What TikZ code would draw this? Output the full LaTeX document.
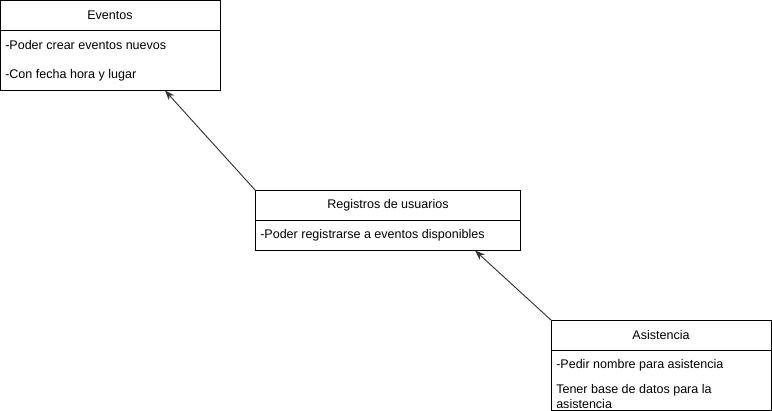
\documentclass[tikz,border=0pt]{standalone}
\usepackage{fontspec}
\setmainfont{Liberation Sans}
\usetikzlibrary{arrows.meta,calc}
\begin{document}
\begin{tikzpicture}[x=0.75pt,y=-0.75pt,
  box/.style={draw=black,line width=0.75pt,anchor=north west,inner sep=0pt,outer sep=0pt},
  title/.style={font=\fontsize{9.4}{11}\selectfont,inner sep=0pt},
  item/.style={font=\fontsize{9.4}{11}\selectfont,inner sep=0pt,anchor=west,align=left},
  conn/.style={draw=black!80,line width=0.7pt,-{Stealth[length=7.5pt,width=5.5pt]}}]
\useasboundingbox (0,0) rectangle (772,411);
% Eventos
\node[box,minimum width=219.5*0.75pt,minimum height=89.5*0.75pt] (ev) at (0.5,0.5) {};
\draw[line width=0.75pt] (0.5,30.5) coordinate (evl) -- (evl -| ev.east);
\node[title] (evt) at (110,15.5) {Eventos};
\node[item] (ev1) at (5,45) {-Poder crear eventos nuevos};
\node[item] (ev2) at (5,75) {-Con fecha hora y lugar};
% Registros
\node[box,minimum width=265*0.75pt,minimum height=60*0.75pt] (reg) at (255.5,190.5) {};
\draw[line width=0.75pt] (255.5,220.5) coordinate (regl) -- (regl -| reg.east);
\node[title] (regt) at (388,205) {Registros de usuarios};
\node[item] (reg1) at (260,235) {-Poder registrarse a eventos disponibles};
% Asistencia
\node[box,minimum width=220*0.75pt,minimum height=90*0.75pt] (as) at (551.5,320.5) {};
\draw[line width=0.75pt] (551.5,350.5) coordinate (asl) -- (asl -| as.east);
\node[title] (ast) at (661,335) {Asistencia};
\node[item] (as1) at (556,365) {-Pedir nombre para asistencia};
\node[item,anchor=north west,font=\fontsize{9.4}{11.25}\selectfont] (as2) at (556,384) {Tener base de datos para la\\asistencia};
% connectors
\coordinate (evtip) at (165,90.5);
\coordinate (regtip) at (475,250.5);
\draw[conn] (reg.north west) -- (evtip);
\draw[conn] (as.north west) -- (regtip);
\end{tikzpicture}
\end{document}
